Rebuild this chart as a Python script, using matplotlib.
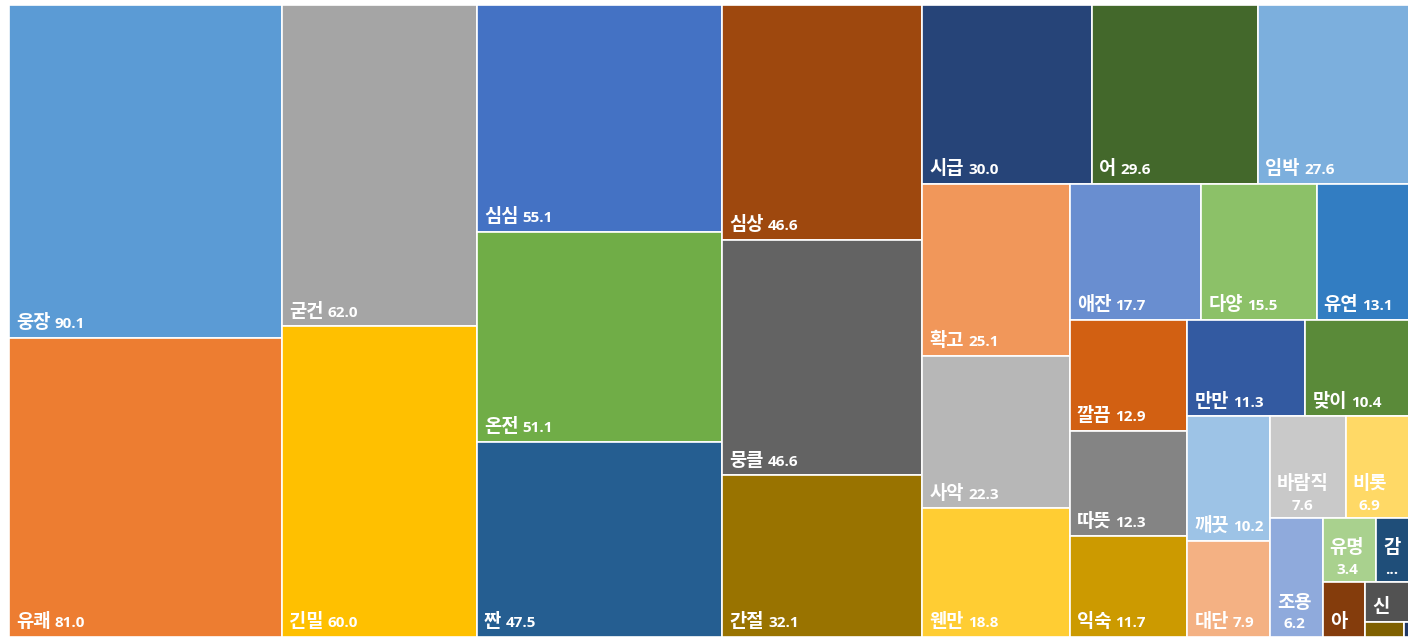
import matplotlib
matplotlib.use('Agg')
import matplotlib.pyplot as plt
from matplotlib.patches import Rectangle
from matplotlib.offsetbox import TextArea, HPacker, VPacker, AnnotationBbox

names = ['웅장', '유쾌', '굳건', '긴밀', '심심', '온전', '짠', '심상', '뭉클', '간절',
         '시급', '어', '임박', '확고', '사악', '웬만', '애잔', '다양', '유연',
         '깔끔', '따뜻', '익숙', '만만', '맞이', '깨끗', '대단', '바람직', '비롯',
         '조용', '유명', '감', '아', '신', '', '']
values = [90.1, 81.0, 62.0, 60.0, 55.1, 51.1, 47.5, 46.6, 46.6, 32.1,
          30.0, 29.6, 27.6, 25.1, 22.3, 18.8, 17.7, 15.5, 13.1,
          12.9, 12.3, 11.7, 11.3, 10.4, 10.2, 7.9, 7.6, 6.9,
          6.2, 3.4, 2.4, 2.3, 1.9, 0.6, 0.15]
colors = ['#5B9BD5', '#ED7D31', '#A5A5A5', '#FFC000', '#4472C4', '#70AD47',
          '#255E91', '#9E480E', '#636363', '#997300',
          '#264478', '#43682B', '#7CAFDD', '#F1975A', '#B7B7B7', '#FFCD33',
          '#698ED0', '#8CC168', '#327DC2', '#D26012', '#848484', '#CC9A00',
          '#335AA1', '#5A8A39', '#9DC3E6', '#F4B183', '#C9C9C9', '#FFD966',
          '#8FAADC', '#A9D18E', '#1F4E79', '#843C0C', '#525252', '#7F6000',
          '#203864']

# number of tiles in each strip, strips run along the shorter side
strips = [2, 2, 3, 3, 3, 3, 3, 3, 2, 2, 2, 1, 2, 1, 1, 1, 1]

# labels that wrap to two lines, or lose their value
wrapped = {'바람직', '비롯', '조용', '유명', '감'}
name_only = {'아', '신'}
ellipsis = {'감'}

W, H = 1405, 632


def layout(vals, counts, x, y, w, h):
    rects = []
    total = sum(vals)
    i = 0
    for n in counts:
        chunk = vals[i:i + n]
        s = sum(chunk)
        if w >= h:
            cw = w * s / total
            yy = y
            for v in chunk:
                ch = h * v / s
                rects.append((x, yy, cw, ch))
                yy += ch
            x += cw
            w -= cw
        else:
            rh = h * s / total
            xx = x
            for v in chunk:
                rw = w * v / s
                rects.append((xx, y, rw, rh))
                xx += rw
            y += rh
            h -= rh
        total -= s
        i += n
    return rects


fig = plt.figure(figsize=(14.08, 6.41), dpi=100)
ax = fig.add_axes([9 / 1408, 4 / 641, W / 1408, H / 641])
ax.set_xlim(0, W)
ax.set_ylim(H, 0)
ax.axis('off')

name_props = dict(family=['Noto Sans CJK KR', 'DejaVu Sans'], size=13.5,
                  weight='bold', color='white')
value_props = dict(family=['Open Sans', 'DejaVu Sans'], size=11,
                   weight='bold', color='white')

for (x, y, w, h), name, val, c in zip(layout(values, strips, 0, 0, W, H),
                                      names, values, colors):
    ax.add_patch(Rectangle((x, y), w, h, facecolor=c, edgecolor='white',
                           linewidth=1.2))
    if not name:
        continue
    name_box = TextArea(name, textprops=name_props)
    if name in name_only:
        box = name_box
    else:
        vtxt = '...' if name in ellipsis else f'{val:.1f}'
        val_box = TextArea(vtxt, textprops=value_props)
        if name in wrapped:
            box = VPacker(children=[name_box, val_box], align='center',
                          pad=0, sep=4)
        else:
            box = HPacker(children=[name_box, val_box], align='baseline',
                          pad=0, sep=3)
    ab = AnnotationBbox(box, (x, y + h), xybox=(5, 4), xycoords='data',
                        boxcoords='offset points', box_alignment=(0, 0),
                        frameon=False, pad=0)
    ax.add_artist(ab)

fig.savefig('out.png', dpi=100)
